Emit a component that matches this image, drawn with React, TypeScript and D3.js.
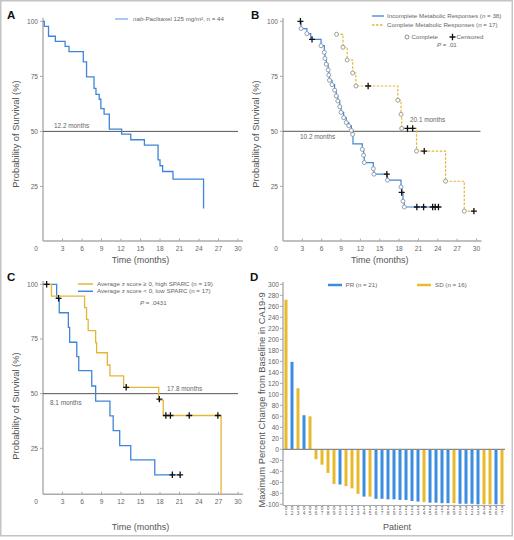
import React from 'react';
import * as d3 from 'd3';

// ---------- shared ticks ----------
const monthTicks = [0, 3, 6, 9, 12, 15, 18, 21, 24, 27, 30];
const survTicks = [25, 50, 75, 100];

// ---------- Panel A ----------
const aTimes = [0, 0.2, 0.85, 1.9, 3.4, 4.0, 6.2, 6.7, 7.85, 8.15, 8.65, 8.9, 9.4, 10.2, 12.1, 13.5, 15.6, 17.7, 18.0, 18.4, 20.0, 24.7];
const aSurv = [100, 97.7, 93.2, 90.9, 88.6, 86.2, 81.6, 74.8, 69.5, 66.8, 64.6, 60.3, 57.8, 51, 48.8, 46.2, 43.8, 37.1, 34.4, 31.8, 28.3, 15];
const aLegend = 'nab-Paclitaxel 125 mg/m², n = 44';
const aMedianLabel = '12.2 months';

// ---------- Panel B ----------
const bBlueTimes = [2.7, 2.8, 3.7, 4.3, 5.9, 6.4, 6.5, 6.7, 7.0, 7.1, 7.2, 7.6, 8.0, 8.25, 8.5, 8.8, 9.0, 9.4, 9.8, 10.2, 10.6, 10.8, 10.85, 12.3, 12.5, 12.6, 14.0, 14.1, 16.2, 18.3, 18.4, 18.6, 18.8, 24.1];
const bBlueSurv = [100, 96.7, 94.4, 91.8, 88.9, 85.9, 83.1, 80.5, 77.9, 75.6, 73.2, 71.2, 68.7, 66.1, 63.8, 61.2, 58.6, 56.2, 54.0, 52.5, 50.4, 48.6, 44.3, 41.8, 39.1, 35.8, 33.0, 30.5, 27.8, 24.7, 22.2, 18.2, 15.6, 15.6];
const bBlueEventTimes = [2.8, 3.7, 5.9, 6.4, 6.5, 6.7, 7.0, 7.1, 7.2, 7.6, 8.0, 8.25, 8.5, 8.8, 9.0, 9.4, 9.8, 10.2, 10.6, 10.8, 12.3, 12.5, 12.6, 14.0, 14.1, 16.2, 18.3, 18.6, 18.8];
const bBlueEventSurv = [96.7, 94.4, 88.9, 85.9, 83.1, 80.5, 77.9, 75.6, 73.2, 71.2, 68.7, 66.1, 63.8, 61.2, 58.6, 56.2, 54.0, 52.5, 50.4, 48.6, 41.8, 39.1, 35.8, 33.0, 30.5, 27.8, 24.7, 18.2, 15.6];
const bBlueCensorTimes = [2.7, 4.5, 16.1, 18.4, 20.75, 21.8, 23.2, 23.6, 24.1];
const bBlueCensorSurv = [100, 91.8, 30.5, 22.2, 15.6, 15.6, 15.6, 15.6, 15.6];

const bYellowTimes = [8.3, 9.3, 9.95, 10.8, 11.3, 17.8, 18.3, 18.4, 20.7, 25.2, 28.1, 29.6];
const bYellowSurv = [94.1, 88.2, 82.4, 76.5, 70.6, 64.1, 57.7, 51.3, 41.0, 27.3, 13.7, 13.7];
const bYellowEventTimes = [8.3, 9.3, 9.95, 10.8, 11.3, 17.8, 18.3, 18.4, 20.7, 25.2, 28.1];
const bYellowEventSurv = [94.1, 88.2, 82.4, 76.5, 70.6, 64.1, 57.7, 51.3, 41.0, 27.3, 13.7];
const bYellowCensorTimes = [13.2, 19.3, 20.1, 21.9, 29.6];
const bYellowCensorSurv = [70.6, 51.3, 51.3, 41.0, 13.7];
const bLegend = ['Incomplete Metabolic Responses (n = 38)', 'Complete Metabolic Responses (n = 17)'];
const bMedianLabels = ['10.2 months', '20.1 months'];

// ---------- Panel C ----------
const cYellowTimes = [0, 1.3, 6.4, 6.7, 6.95, 8.1, 8.25, 9.9, 10.3, 12.4, 17.8, 18.5, 27.4];
const cYellowSurv = [100, 94.6, 89.3, 84.0, 78.8, 73.3, 68.7, 63.1, 58.1, 52.9, 47.0, 40.0, 4];
const cYellowCensorTimes = [0.56, 12.8, 17.9, 18.9, 19.6, 22.5, 26.9];
const cYellowCensorSurv = [100, 52.9, 47.5, 40, 40, 40, 40];
const cBlueTimes = [0, 2.1, 2.5, 3.9, 4.1, 5.2, 5.5, 7.5, 8.1, 10.3, 10.8, 11.8, 13.5, 17.2, 21.1];
const cBlueSurv = [100, 93.6, 87.0, 80.3, 73.5, 66.9, 60.5, 53.5, 46.6, 39.8, 33.1, 26.2, 19.7, 12.9, 12.9];
const cBlueCensorTimes = [2.4, 19.9, 21.1];
const cBlueCensorSurv = [93.6, 12.9, 12.9];
const cLegend = ['Average z score ≥ 0, high SPARC (n = 19)', 'Average z score < 0, low SPARC (n = 17)'];
const cMedianLabels = ['8.1 months', '17.8 months'];
const cAxisFloor = 4;

// ---------- Panel D ----------
const dPatients = ['01','02','03','04','05','06','07','08','09','10','11','12','13','14','15','16','17','18','19','20','21','22','23','24','25','26','27','28','29','30','31','32','33','34','35','36','37'];
const dValues = [272, 159, 111, 62, 60, -18, -28, -43, -63, -64, -67, -71, -81, -86, -86, -90, -90, -91, -91, -92, -92, -94, -95, -96, -97, -97, -98, -98, -98, -99, -99, -99, -100, -100, -100, -100, -100];
const dGroups = ['SD','PR','SD','PR','SD','SD','SD','SD','SD','PR','SD','SD','SD','PR','SD','PR','PR','PR','PR','PR','PR','PR','PR','SD','PR','PR','PR','PR','SD','PR','PR','PR','PR','SD','SD','PR','SD'];
const dTicks = d3.range(-100, 301, 20);
const dLegend = ['PR (n = 21)', 'SD (n = 16)'];

// ---------- styles ----------
const FONT = "'Liberation Sans', Arial, Helvetica, sans-serif";
const BLUE = '#3f85d8';
const YELLOW = '#e4b638';
const BAR_BLUE = '#3b8de0';
const BAR_YELLOW = '#e9b92c';
const AXIS = '#ababab';
const MED = '#555';
const TXT = '#666';
const TXT2 = '#555';

type Pt = [number, number];
const zip = (a: number[], b: number[]): Pt[] => a.map((v, i) => [v, b[i]]);

function Censor({ x, y }: { x: number; y: number }) {
  return <path d={`M${x - 3},${y}H${x + 3}M${x},${y - 3.2}V${y + 3.2}`} stroke="#111" strokeWidth={1.3} fill="none" />;
}

function KMAxes({ x, y, axisY, yTop, xTitleY, yTitleY, zeroOffset = 7 }: any) {
  const [x0, x1] = x.range();
  return (
    <g fontFamily={FONT}>
      <line x1={x0} x2={x0} y1={yTop} y2={axisY} stroke={AXIS} strokeWidth={1.4} />
      <line x1={x0} x2={x1 + 5} y1={axisY} y2={axisY} stroke={AXIS} strokeWidth={1.4} />
      {survTicks.map((t) => (
        <g key={t}>
          <line x1={x0 - 3} x2={x0} y1={y(t)} y2={y(t)} stroke={AXIS} strokeWidth={1} />
          <text x={x0 - 5} y={y(t)} dy="0.35em" textAnchor="end" fontSize={6.6} fill={TXT}>{t}</text>
        </g>
      ))}
      {monthTicks.map((t) => (
        <g key={t}>
          {t > 0 && <line x1={x(t)} x2={x(t)} y1={axisY} y2={axisY - 2.5} stroke={AXIS} strokeWidth={1} />}
          <text x={t === 0 ? x(t) - zeroOffset : x(t)} y={axisY + 7.5} dy="0.35em" textAnchor="middle" fontSize={6.6} fill={TXT}>{t}</text>
        </g>
      ))}
      <text x={(x0 + x1) / 2} y={xTitleY} textAnchor="middle" fontSize={9} fill={TXT2}>Time (months)</text>
      <text transform={`translate(${x0 - 24},${yTitleY}) rotate(-90)`} textAnchor="middle" fontSize={9.4} fill={TXT2}>Probability of Survival (%)</text>
    </g>
  );
}

function PanelA() {
  const x = d3.scaleLinear().domain([0, 30]).range([43, 238]);
  const y = d3.scaleLinear().domain([0, 100]).range([241.5, 21.3]);
  const line = d3.line<Pt>().x((d) => x(d[0])).y((d) => y(d[1])).curve(d3.curveStepAfter);
  return (
    <g>
      <text x={7} y={18.5} fontFamily={FONT} fontWeight="bold" fontSize={11.5} fill="#111">A</text>
      <KMAxes x={x} y={y} axisY={241} yTop={18} xTitleY={263} yTitleY={134} />
      <line x1={x(0)} x2={x(30)} y1={y(50)} y2={y(50)} stroke={MED} strokeWidth={1} />
      <text x={54} y={y(50) - 3} fontFamily={FONT} fontSize={6.4} fill={TXT}>{aMedianLabel}</text>
      <path d={line(zip(aTimes, aSurv)) || ''} stroke={BLUE} strokeWidth={1.3} fill="none" />
      <line x1={115} x2={128} y1={19} y2={19} stroke="#8fb6ea" strokeWidth={1.5} />
      <text x={133} y={19} dy="0.35em" fontFamily={FONT} fontSize={6.2} fill={TXT}>
        <tspan fontStyle="italic">nab</tspan>{aLegend.slice(3)}
      </text>
    </g>
  );
}

function PanelB() {
  const x = d3.scaleLinear().domain([0, 30]).range([283, 476.5]);
  const y = d3.scaleLinear().domain([0, 100]).range([241.3, 21.3]);
  const line = d3.line<Pt>().x((d) => x(d[0])).y((d) => y(d[1])).curve(d3.curveStepAfter);
  return (
    <g>
      <text x={251} y={18.5} fontFamily={FONT} fontWeight="bold" fontSize={11.5} fill="#111">B</text>
      <KMAxes x={x} y={y} axisY={241} yTop={18} xTitleY={263} yTitleY={134} />
      <line x1={x(0)} x2={x(30) + 4} y1={y(50)} y2={y(50)} stroke={MED} strokeWidth={1} />
      <text x={300} y={y(50) + 8} fontFamily={FONT} fontSize={6.4} fill={TXT}>{bMedianLabels[0]}</text>
      <text x={410} y={y(50) - 9} fontFamily={FONT} fontSize={6.4} fill={TXT}>{bMedianLabels[1]}</text>
      <path d={line(zip(bBlueTimes, bBlueSurv)) || ''} stroke={BLUE} strokeWidth={1.2} fill="none" />
      <path d={line(zip(bYellowTimes, bYellowSurv)) || ''} stroke={YELLOW} strokeWidth={1.2} strokeDasharray="2.5,1.5" fill="none" />
      {zip(bBlueEventTimes, bBlueEventSurv).map((d, i) => (
        <circle key={'be' + i} cx={x(d[0])} cy={y(d[1])} r={2} fill="white" stroke="#7a8a9a" strokeWidth={0.8} />
      ))}
      {zip(bYellowEventTimes, bYellowEventSurv).map((d, i) => (
        <circle key={'ye' + i} cx={x(d[0])} cy={y(d[1])} r={2} fill="white" stroke="#8a8a7a" strokeWidth={0.8} />
      ))}
      {zip(bBlueCensorTimes, bBlueCensorSurv).map((d, i) => <Censor key={'bc' + i} x={x(d[0])} y={y(d[1])} />)}
      {zip(bYellowCensorTimes, bYellowCensorSurv).map((d, i) => <Censor key={'yc' + i} x={x(d[0])} y={y(d[1])} />)}
      <g fontFamily={FONT} fontSize={6.2} fill={TXT}>
        <line x1={372} x2={384} y1={16} y2={16} stroke={BLUE} strokeWidth={1.3} />
        <text x={387} y={16} dy="0.35em">{bLegend[0]}</text>
        <line x1={372} x2={384} y1={25} y2={25} stroke={YELLOW} strokeWidth={1.3} strokeDasharray="2.5,1.5" />
        <text x={387} y={25} dy="0.35em">{bLegend[1]}</text>
        <circle cx={407} cy={37} r={2} fill="white" stroke="#777" strokeWidth={0.8} />
        <text x={411.5} y={37} dy="0.35em">Complete</text>
        <Censor x={452.5} y={37} />
        <text x={456.5} y={37} dy="0.35em">Censored</text>
        <text x={437} y={45} dy="0.35em"><tspan fontStyle="italic">P</tspan> = .01</text>
      </g>
    </g>
  );
}

function PanelC() {
  const x = d3.scaleLinear().domain([0, 30]).range([43, 238]);
  const y = d3.scaleLinear().domain([0, 100]).range([503, 284.3]);
  const axisY = y(cAxisFloor);
  const line = d3.line<Pt>().x((d) => x(d[0])).y((d) => y(d[1])).curve(d3.curveStepAfter);
  return (
    <g>
      <text x={7} y={281} fontFamily={FONT} fontWeight="bold" fontSize={11.5} fill="#111">C</text>
      <KMAxes x={x} y={y} axisY={axisY} yTop={281} xTitleY={530} yTitleY={406} />
      <line x1={x(0)} x2={x(30)} y1={y(50)} y2={y(50)} stroke={MED} strokeWidth={1} />
      <text x={50} y={y(50) + 11} fontFamily={FONT} fontSize={6.4} fill={TXT}>{cMedianLabels[0]}</text>
      <text x={167} y={y(50) - 3} fontFamily={FONT} fontSize={6.4} fill={TXT}>{cMedianLabels[1]}</text>
      <path d={line(zip(cBlueTimes, cBlueSurv)) || ''} stroke={BLUE} strokeWidth={1.3} fill="none" />
      <path d={line(zip(cYellowTimes, cYellowSurv)) || ''} stroke={YELLOW} strokeWidth={1.3} fill="none" />
      {zip(cYellowCensorTimes, cYellowCensorSurv).map((d, i) => <Censor key={'cy' + i} x={x(d[0])} y={y(d[1])} />)}
      {zip(cBlueCensorTimes, cBlueCensorSurv).map((d, i) => <Censor key={'cb' + i} x={x(d[0])} y={y(d[1])} />)}
      <g fontFamily={FONT} fontSize={6.2} fill={TXT}>
        <line x1={78} x2={93} y1={284} y2={284} stroke={YELLOW} strokeWidth={1.5} />
        <text x={97} y={284} dy="0.35em">{cLegend[0]}</text>
        <line x1={78} x2={93} y1={291.3} y2={291.3} stroke={BLUE} strokeWidth={1.5} />
        <text x={97} y={291.3} dy="0.35em">{cLegend[1]}</text>
        <text x={140} y={303.3} dy="0.35em"><tspan fontStyle="italic">P</tspan> = .0431</text>
      </g>
    </g>
  );
}

function PanelD() {
  const x = d3.scaleBand<string>().domain(dPatients).range([283, 505]).paddingInner(0.5).paddingOuter(0.25);
  const y = d3.scaleLinear().domain([-100, 300]).range([504.3, 284.3]);
  const x0 = 283;
  return (
    <g fontFamily={FONT}>
      <text x={250} y={281} fontWeight="bold" fontSize={11.5} fill="#111">D</text>
      <line x1={x0} x2={x0} y1={282} y2={505.5} stroke={AXIS} strokeWidth={1.4} />
      {dTicks.map((t) => (
        <g key={t}>
          <line x1={x0 - 3} x2={x0} y1={y(t)} y2={y(t)} stroke={AXIS} strokeWidth={1} />
          <text x={x0 - 4} y={y(t)} dy="0.35em" textAnchor="end" fontSize={6.6} fill={TXT}>{t}</text>
        </g>
      ))}
      {dPatients.map((p, i) => (
        <rect key={p} x={x(p)} width={x.bandwidth()} y={y(Math.max(0, dValues[i]))} height={Math.abs(y(dValues[i]) - y(0))}
          fill={dGroups[i] === 'PR' ? BAR_BLUE : BAR_YELLOW} />
      ))}
      <line x1={x0} x2={505} y1={y(0)} y2={y(0)} stroke="#8a8a8a" strokeWidth={1.2} />
      <line x1={x0} x2={505} y1={505.5} y2={505.5} stroke={AXIS} strokeWidth={1.2} />
      {dPatients.map((p) => {
        const cx = (x(p) || 0) + x.bandwidth() / 2;
        return (
          <g key={'l' + p}>
            <line x1={cx} x2={cx} y1={505.5} y2={507.5} stroke={AXIS} strokeWidth={0.8} />
            <text x={cx} y={510.3} textAnchor="middle" fontSize={4.8} fill={TXT}>{p[0]}</text>
            <text x={cx} y={515.3} textAnchor="middle" fontSize={4.8} fill={TXT}>{p[1]}</text>
          </g>
        );
      })}
      <text x={397} y={530} textAnchor="middle" fontSize={9} fill={TXT2}>Patient</text>
      <text transform={`translate(262,400) rotate(-90)`} textAnchor="middle" dy="0.35em" fontSize={9.4} fill={TXT2}>Maximum Percent Change from Baseline in CA19-9</text>
      <line x1={328} x2={342} y1={285} y2={285} stroke={BAR_BLUE} strokeWidth={2.5} />
      <text x={345.5} y={285} dy="0.35em" fontSize={6.2} fill={TXT}>{dLegend[0]}</text>
      <line x1={417} x2={431} y1={285} y2={285} stroke={BAR_YELLOW} strokeWidth={2.5} />
      <text x={435} y={285} dy="0.35em" fontSize={6.2} fill={TXT}>{dLegend[1]}</text>
    </g>
  );
}

export default function App() {
  return (
    <svg width={514} height={540} style={{ position: 'absolute', left: 0, top: 0, background: 'white' }}>
      <rect x={0} y={0} width={514} height={540} fill="white" />
      <rect x={0.75} y={0.75} width={511.5} height={535} fill="none" stroke="#c4c4c4" strokeWidth={1.5} />
      <PanelA />
      <PanelB />
      <PanelC />
      <PanelD />
    </svg>
  );
}
